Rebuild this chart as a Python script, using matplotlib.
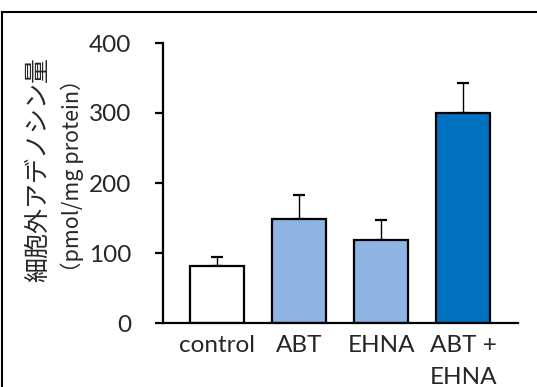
import matplotlib
matplotlib.use("Agg")
from matplotlib import pyplot as plt
from matplotlib.lines import Line2D
import numpy as np

categories = ["control", "ABT", "EHNA", "ABT +\nEHNA"]
means = [82, 149, 118, 300]
errors = [12, 34, 29, 43]
colors = ["#FFFFFF", "#8EB4E3", "#8EB4E3", "#0070C0"]
yticks = [0, 100, 200, 300, 400]

plt.rcParams['font.family'] = ['Lato', 'DejaVu Sans']


def main():
    fig = plt.figure(figsize=(5.37, 3.87), dpi=100)
    ax = fig.add_axes([163 / 537, 1 - 323 / 387, (518 - 163) / 537, (323 - 43) / 387])

    x = np.arange(len(categories))
    ax.bar(x, means, width=0.66, color=colors, edgecolor="black", linewidth=1.6, zorder=2)
    ax.errorbar(x, means, yerr=[np.zeros(len(errors)), errors], fmt="none", ecolor="black",
                elinewidth=1.0, capsize=4.5, capthick=1.6, zorder=1)

    ax.set_xlim(-0.66, 3.67)
    ax.set_ylim(0, 400)
    ax.set_yticks(yticks)
    ax.set_xticks(x)
    ax.set_xticklabels(categories, fontsize=17.5, color="#262626", va="top", linespacing=1.6)
    ax.tick_params(axis="x", length=0, pad=9)
    ax.tick_params(axis="y", direction="out", length=6, width=1.6, labelsize=17.5, colors="black",
                   labelcolor="#262626", pad=17)
    for side in ["top", "right"]:
        ax.spines[side].set_visible(False)
    for side in ["left", "bottom"]:
        ax.spines[side].set_linewidth(1.6)

    fig.text(38 / 537, 1 - 170 / 387, "細胞外アデノシン量", rotation=90, ha="center", va="center",
             fontsize=18, family=["Noto Sans CJK JP", "DejaVu Sans"], color="#262626")
    fig.text(72 / 537, 1 - 176 / 387, "（pmol/mg protein）", rotation=90, ha="center", va="center",
             fontsize=15.5, family=["Noto Sans CJK JP", "DejaVu Sans"], color="#262626")

    # outer frame (left and top edges visible)
    fig.add_artist(Line2D([1.5 / 537, 1.5 / 537], [0, 1 - 12 / 387], transform=fig.transFigure,
                          color="black", linewidth=1.5))
    fig.add_artist(Line2D([1.5 / 537, 1], [1 - 12 / 387, 1 - 12 / 387], transform=fig.transFigure,
                          color="black", linewidth=1.5))

    fig.savefig("out.png", dpi=100)


if __name__ == '__main__':
    main()
